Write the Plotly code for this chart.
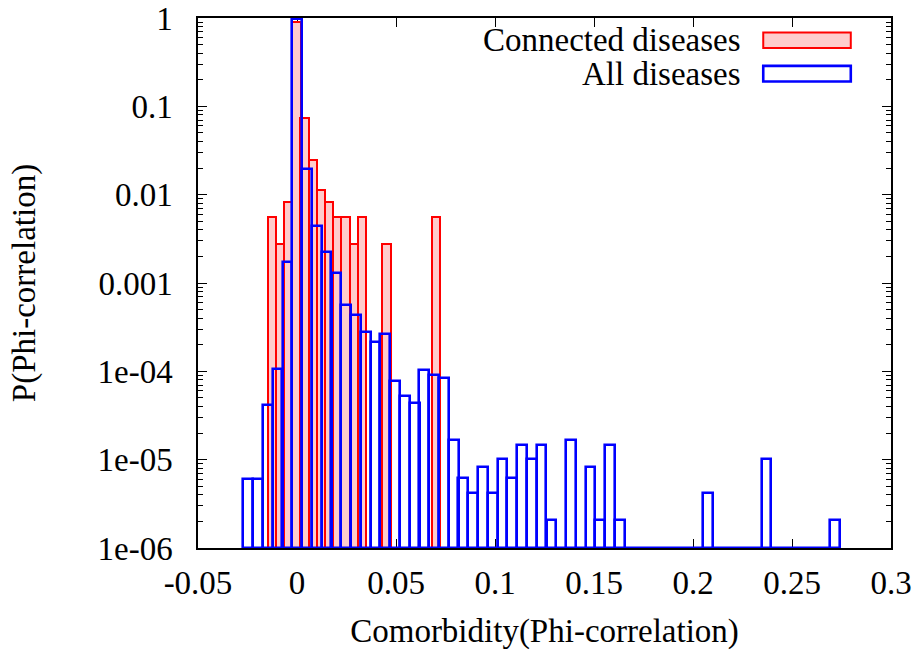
import plotly.graph_objects as go

# ---- data ----
red_x = [-0.0127, -0.0086, -0.0044, -0.0003, 0.0038, 0.0080, 0.0121, 0.0162,
         0.0204, 0.0245, 0.0287, 0.0328, 0.0452, 0.0700]
red_y = [0.0056, 0.0028, 0.0083, 0.91, 0.074, 0.025, 0.0113, 0.0083,
         0.0056, 0.0056, 0.0028, 0.0056, 0.0028, 0.0056]
red_width = 0.00414

blue_x = [-0.0246, -0.0196, -0.0147, -0.0098, -0.0048, 0.0001, 0.0050, 0.0100,
          0.0149, 0.0199, 0.0248, 0.0297, 0.0347, 0.0396, 0.0445, 0.0495,
          0.0544, 0.0594, 0.0643, 0.0692, 0.0742, 0.0791, 0.0840, 0.0890,
          0.0939, 0.0989, 0.1038, 0.1087, 0.1137, 0.1186, 0.1235, 0.1285,
          0.1383, 0.1482, 0.1532, 0.1581, 0.1630, 0.2075, 0.2371, 0.2717]
blue_y = [6.1e-6, 6.1e-6, 4.2e-5, 1.06e-4, 1.71e-3, 0.98, 0.0195, 0.00445,
          0.00222, 0.00129, 5.6e-4, 4.35e-4, 2.77e-4, 2.13e-4, 2.65e-4, 7.8e-5,
          5.25e-5, 4.4e-5, 1.03e-4, 9.2e-5, 8.3e-5, 1.67e-5, 6.25e-6, 4.2e-6,
          8.3e-6, 4.2e-6, 1.03e-5, 6.25e-6, 1.47e-5, 1.03e-5, 1.47e-5, 2.07e-6,
          1.67e-5, 8.3e-6, 2.07e-6, 1.47e-5, 2.07e-6, 4.2e-6, 1.03e-5, 2.07e-6]
blue_width = 0.00494

x_tickvals = [-0.05, 0, 0.05, 0.1, 0.15, 0.2, 0.25, 0.3]
x_ticktext = ["-0.05", "0", "0.05", "0.1", "0.15", "0.2", "0.25", "0.3"]
y_tickvals = [1, 0.1, 0.01, 0.001, 1e-4, 1e-5, 1e-6]
y_ticktext = ["1", "0.1", "0.01", "0.001", "1e-04", "1e-05", "1e-06"]

series_names = ["Connected diseases", "All diseases"]

FONT = "Liberation Serif"
FS = 33

fig = go.Figure()
fig.add_trace(go.Bar(
    x=red_x, y=red_y, width=red_width, name=series_names[0],
    marker=dict(color="#ffcccc", line=dict(color="#ff0000", width=2)),
    showlegend=False))
fig.add_trace(go.Bar(
    x=blue_x, y=blue_y, width=blue_width, name=series_names[1],
    marker=dict(color="rgba(0,0,0,0)", line=dict(color="#0000ff", width=2.6)),
    showlegend=False))
# bottom edges of the (empty) blue bins along the baseline
fig.add_trace(go.Scatter(
    x=[blue_x[0] - blue_width / 2, blue_x[-1] + blue_width / 2],
    y=[y_tickvals[-1], y_tickvals[-1]], mode="lines",
    line=dict(color="#0000ff", width=3), showlegend=False, hoverinfo="skip"))

axis_common = dict(
    showline=True, linecolor="black", linewidth=1.5, mirror="ticks",
    ticks="inside", ticklen=9, tickcolor="black", tickwidth=1,
    showgrid=False, zeroline=False, layer="below traces",
    tickfont=dict(family=FONT, size=FS, color="black"),
)

fig.update_xaxes(
    range=[-0.05, 0.3], tickvals=x_tickvals, ticktext=x_ticktext,
    ticklabelstandoff=5,
    title=dict(text="Comorbidity(Phi-correlation)",
               font=dict(family=FONT, size=FS, color="black"), standoff=19),
    **axis_common)
fig.update_yaxes(
    type="log", range=[-6, 0], tickvals=y_tickvals, ticktext=y_ticktext,
    ticklabelstandoff=17,
    minor=dict(ticks="inside", ticklen=5, tickcolor="black", tickwidth=1,
               dtick="D1", showgrid=False),
    title=dict(text="P(Phi-correlation)",
               font=dict(family=FONT, size=FS, color="black"), standoff=52),
    **axis_common)

# legend in gnuplot style (text left, sample right)
pw = 692.7
ph = 530.0
def px(xp):
    return (xp - 198.0) / pw
def py(yp):
    return 1 - (yp - 18.0) / ph

legend_fill = ["#ffcccc", "rgba(0,0,0,0)"]
legend_line = ["#ff0000", "#0000ff"]
legend_lw = [2, 2.6]
legend_rows = [40.3, 73.7]
for i, name in enumerate(series_names):
    yc = legend_rows[i]
    fig.add_annotation(text=name, xref="paper", yref="paper",
                       x=px(743), y=py(yc), xanchor="right", yanchor="middle",
                       showarrow=False,
                       font=dict(family=FONT, size=FS, color="black"))
    fig.add_shape(type="rect", xref="paper", yref="paper",
                  x0=px(763), x1=px(850.5), y0=py(yc - 7.8), y1=py(yc + 7.8),
                  fillcolor=legend_fill[i],
                  line=dict(color=legend_line[i], width=legend_lw[i]))

fig.update_layout(
    width=920, height=654,
    margin=dict(l=198, r=29, t=18, b=106, autoexpand=False),
    barmode="overlay", bargap=0,
    plot_bgcolor="white", paper_bgcolor="white",
    font=dict(family=FONT, size=FS, color="black"),
)

fig.write_html("out.html")
